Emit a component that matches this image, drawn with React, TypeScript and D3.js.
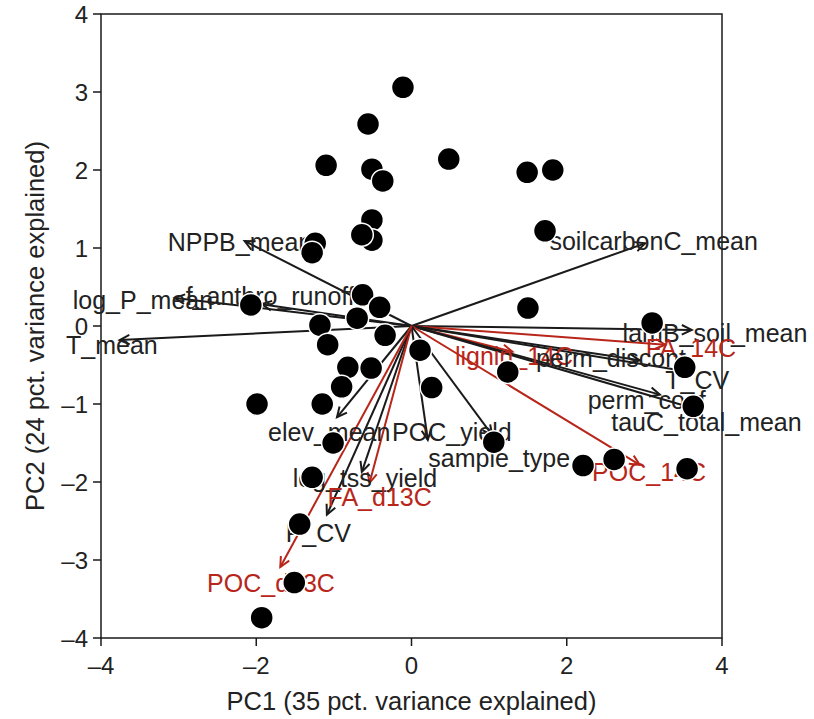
import React from 'react';
import * as d3 from 'd3';

// Sample scores (PC1, PC2)
const scoreX = [-0.11, -0.56, -1.10, -0.51, -0.37, 0.48, 1.49, 1.82, 1.72, -0.51, -0.51, -0.64, -1.24, -1.28,
  -0.63, -0.41, -2.07, -1.18, -0.34, -1.08, -0.82, -0.52, -0.90, -1.15, -1.99, 0.11, 0.26, 1.50, 3.10, 1.24,
  3.52, 3.63, 1.06, 2.21, 2.61, 3.55, -1.01, -1.28, -1.44, -1.51, -1.93, -0.70];
const scoreY = [3.06, 2.59, 2.06, 2.01, 1.86, 2.14, 1.97, 2.00, 1.22, 1.36, 1.10, 1.17, 1.06, 0.94,
  0.40, 0.24, 0.27, 0.01, -0.12, -0.24, -0.53, -0.54, -0.78, -1.00, -1.00, -0.31, -0.79, 0.23, 0.04, -0.59,
  -0.53, -1.03, -1.49, -1.79, -1.71, -1.83, -1.50, -1.94, -2.54, -3.29, -3.74, 0.10];

// Variable loadings (arrow tips) and label positions
const varNames = ['NPPB_mean', 'log_P_mean', 'f_anthro_runoff', 'T_mean', 'soilcarbonC_mean', 'lamB_soil_mean',
  'FA_14C', 'lignin_14C', 'perm_discont', 'T_CV', 'perm_coef', 'tauC_total_mean', 'POC_14C', 'elev_mean',
  'POC_yield', 'sample_type', 'log_tss_yield', 'FA_d13C', 'P_CV', 'POC_d13C'];
const isIsotope = [false, false, false, false, false, false, true, true, false, false, false, false, true, false,
  false, false, false, true, false, true];
const loadX = [-2.15, -3.05, -1.93, -3.76, 3.01, 3.61, 3.27, 1.30, 2.94, 3.59, 3.20, 3.72, 2.94, -0.96,
  0.21, 1.04, -0.64, -0.54, -1.09, -1.69];
const loadY = [1.09, 0.36, 0.28, -0.18, 1.06, -0.05, -0.24, -0.33, -0.44, -0.59, -0.88, -1.08, -1.78, -1.17,
  -1.46, -1.40, -1.87, -2.01, -2.42, -3.09];
const labelX = [-2.21, -3.46, -1.82, -3.86, 3.12, 3.91, 3.60, 1.32, 2.57, 3.68, 3.03, 3.80, 3.06, -1.06,
  0.52, 1.13, -0.60, -0.41, -1.20, -1.81];
const labelY = [1.08, 0.33, 0.38, -0.24, 1.09, -0.09, -0.28, -0.38, -0.41, -0.69, -0.95, -1.23, -1.87, -1.36,
  -1.36, -1.69, -1.95, -2.19, -2.65, -3.29];

const xTicks = [-4, -2, 0, 2, 4];
const yTicks = [-4, -3, -2, -1, 0, 1, 2, 3, 4];
const xTitle = 'PC1 (35 pct. variance explained)';
const yTitle = 'PC2 (24 pct. variance explained)';

const W = 814;
const H = 719;
const M = { left: 101, right: 722, top: 14, bottom: 638 };
const FONT = '"Liberation Sans", Arial, Helvetica, sans-serif';
const RED = '#b8261a';
const INK = '#1a1a1a';

export default function App() {
  const x = d3.scaleLinear().domain([-4, 4]).range([M.left, M.right]);
  const y = d3.scaleLinear().domain([-4, 4]).range([M.bottom, M.top]);
  const fmt = (v: number) => (v < 0 ? '\u2013' + Math.abs(v) : String(v));

  const arrowHead = (x0: number, y0: number, x1: number, y1: number) => {
    const ang = Math.atan2(y1 - y0, x1 - x0);
    const len = 11;
    const a = Math.PI / 7;
    const p1 = [x1 - len * Math.cos(ang - a), y1 - len * Math.sin(ang - a)];
    const p2 = [x1 - len * Math.cos(ang + a), y1 - len * Math.sin(ang + a)];
    return `M${p1[0]},${p1[1]}L${x1},${y1}L${p2[0]},${p2[1]}`;
  };

  const x0 = x(0);
  const y0 = y(0);

  return (
    <svg width={W} height={H} style={{ position: 'absolute', left: 0, top: 0, background: '#fff' }}
      fontFamily={FONT}>
      <rect x={0} y={0} width={W} height={H} fill="#fff" />
      {/* box */}
      <rect x={M.left} y={M.top} width={M.right - M.left} height={M.bottom - M.top} fill="none"
        stroke={INK} strokeWidth={1.5} />
      {/* y ticks */}
      {yTicks.map((t) => (
        <g key={'y' + t}>
          <line x1={M.left - 8} x2={M.left} y1={y(t)} y2={y(t)} stroke={INK} strokeWidth={1.5} />
          <text x={M.left - 13} y={y(t)} textAnchor="end" dominantBaseline="central" fontSize={24} fill="#222">
            {fmt(t)}
          </text>
        </g>
      ))}
      {/* x ticks */}
      {xTicks.map((t) => (
        <g key={'x' + t}>
          <line x1={x(t)} x2={x(t)} y1={M.bottom} y2={M.bottom + 8} stroke={INK} strokeWidth={1.5} />
          <text x={x(t)} y={M.bottom + 27} textAnchor="middle" dominantBaseline="central" fontSize={24} fill="#222">
            {fmt(t)}
          </text>
        </g>
      ))}
      <text x={(M.left + M.right) / 2} y={701} textAnchor="middle" dominantBaseline="central" fontSize={25.5}
        fill="#222">{xTitle}</text>
      <text transform={`translate(35,${(M.top + M.bottom) / 2}) rotate(-90)`} textAnchor="middle"
        dominantBaseline="central" fontSize={25.5} fill="#222">{yTitle}</text>

      {/* arrows */}
      {varNames.map((n, i) => {
        const col = isIsotope[i] ? RED : INK;
        const tx = x(loadX[i]);
        const ty = y(loadY[i]);
        return (
          <g key={'a' + n}>
            <line x1={x0} y1={y0} x2={tx} y2={ty} stroke={col} strokeWidth={2} />
            <path d={arrowHead(x0, y0, tx, ty)} stroke={col} strokeWidth={2} fill="none" />
          </g>
        );
      })}
      {varNames.map((n, i) => (
        <text key={'l' + n} x={x(labelX[i])} y={y(labelY[i])} textAnchor="middle" dominantBaseline="central"
          fontSize={25} fill={isIsotope[i] ? RED : '#222'}>{n}</text>
      ))}

      {/* points */}
      {scoreX.map((v, i) => (
        <circle key={'p' + i} cx={x(v)} cy={y(scoreY[i])} r={11.5} fill="#000" stroke="#fff" strokeWidth={1.5} />
      ))}
    </svg>
  );
}
